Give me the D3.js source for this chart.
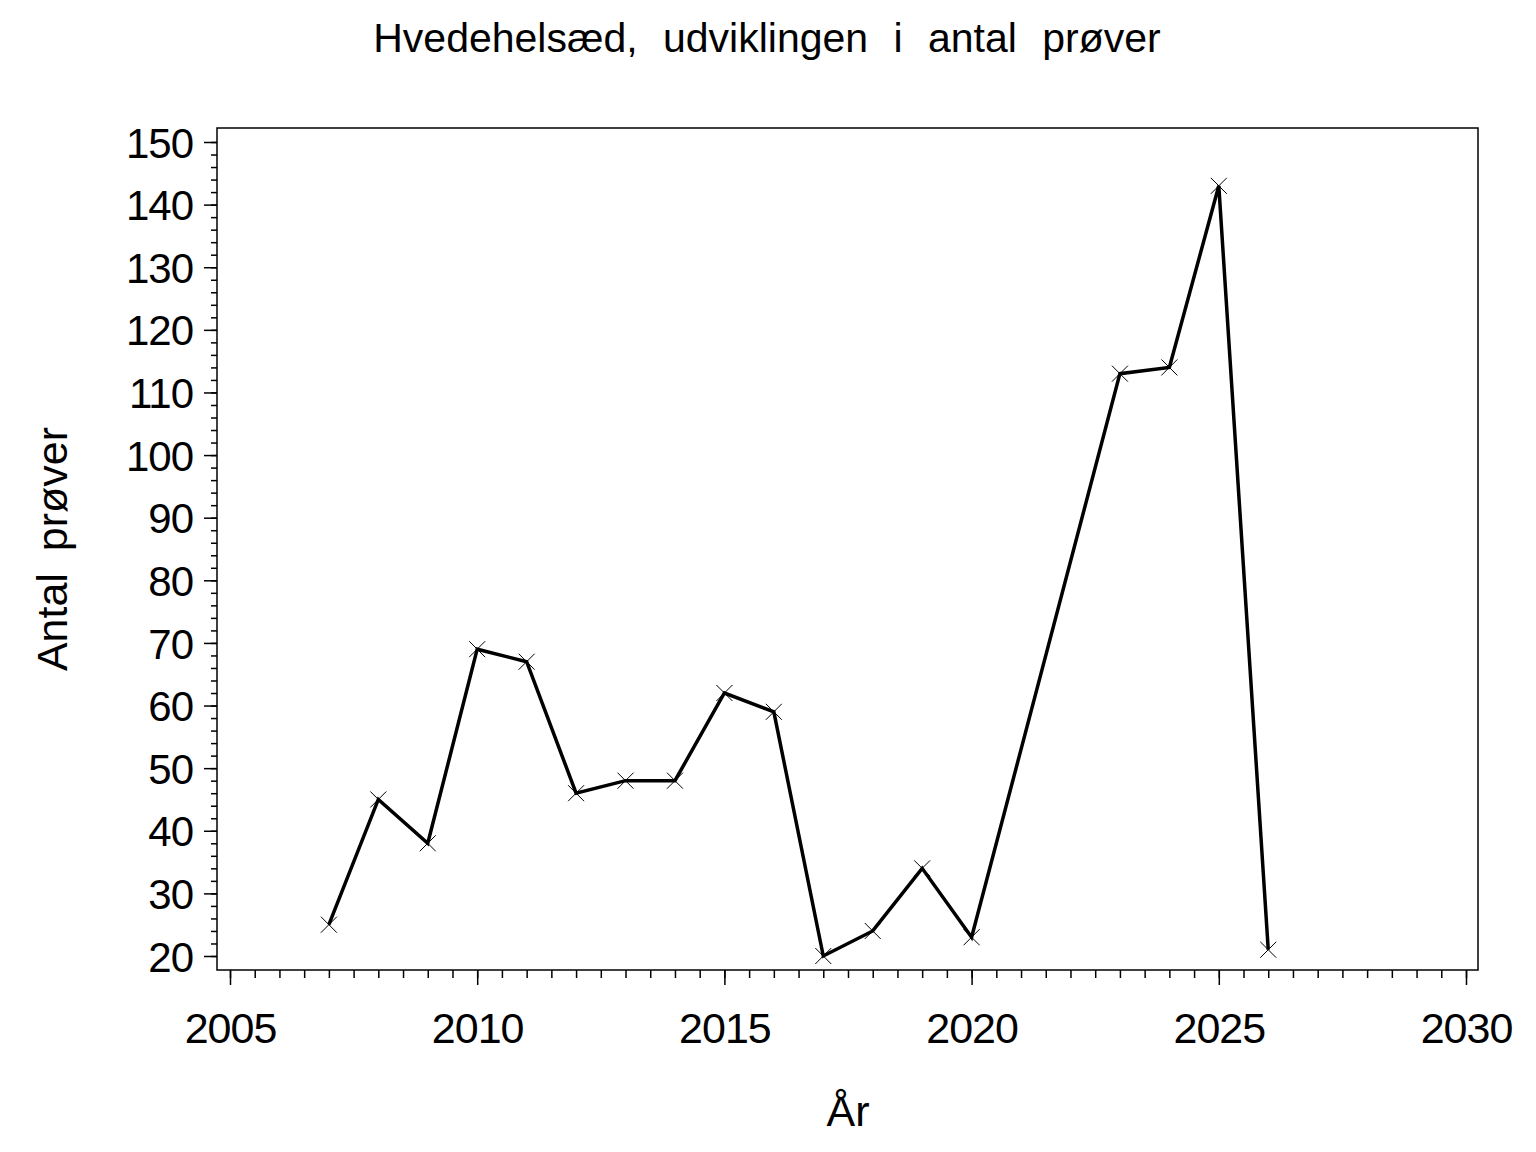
<!DOCTYPE html>
<html>
<head>
<meta charset="utf-8">
<script src="https://cdn.jsdelivr.net/npm/d3@7"></script>
<style>
  body { margin: 0; background: #fff; }
  text { font-family: "Liberation Sans", Arial, sans-serif; fill: #000; }
</style>
</head>
<body>
<svg width="1536" height="1152"></svg>
<script>
// data
const years  = [2007, 2008, 2009, 2010, 2011, 2012, 2013, 2014, 2015, 2016, 2017, 2018, 2019, 2020, 2023, 2024, 2025, 2026];
const counts = [25, 45, 38, 69, 67, 46, 48, 48, 62, 59, 20, 24, 34, 23, 113, 114, 143, 21];
const xTicks = [2005, 2010, 2015, 2020, 2025, 2030];
const yTicks = [20, 30, 40, 50, 60, 70, 80, 90, 100, 110, 120, 130, 140, 150];

const title = "Hvedehelsæd, udviklingen i antal prøver";
const xLabel = "År";
const yLabel = "Antal prøver";

const data = years.map((y, i) => ({ year: y, n: counts[i] }));

const frame = { left: 217, right: 1478, top: 128, bottom: 970 };

const svg = d3.select("svg");

const x = d3.scaleLinear().domain([2005, 2030]).range([230, 1466]);
const y = d3.scaleLinear().domain([20, 150]).range([956, 142]);

// frame
svg.append("rect")
  .attr("x", frame.left)
  .attr("y", frame.top)
  .attr("width", frame.right - frame.left)
  .attr("height", frame.bottom - frame.top)
  .attr("fill", "none")
  .attr("stroke", "#000")
  .attr("stroke-width", 1.5);

// y axis, minor then major
svg.append("g")
  .attr("transform", `translate(${frame.left},0)`)
  .call(d3.axisLeft(y).tickValues(d3.range(20, 151, 2)).tickSize(6).tickFormat(""))
  .call(g => g.select(".domain").remove())
  .selectAll("line").attr("stroke-width", 1.5);

const yAxis = svg.append("g")
  .attr("transform", `translate(${frame.left},0)`)
  .call(d3.axisLeft(y).tickValues(yTicks).tickSize(13).tickPadding(11));
yAxis.select(".domain").remove();
yAxis.selectAll("line").attr("stroke-width", 1.5);
yAxis.selectAll("text")
  .style("font-size", "42px")
  .style("font-family", "'Liberation Sans', Arial, sans-serif")
  .style("letter-spacing", "-1px")
  .attr("dy", "0.36em");

// x axis, minor then major
svg.append("g")
  .attr("transform", `translate(0,${frame.bottom})`)
  .call(d3.axisBottom(x).tickValues(d3.range(2005, 2030.01, 0.5)).tickSize(8).tickFormat(""))
  .call(g => g.select(".domain").remove())
  .selectAll("line").attr("stroke-width", 1.5);

const xAxis = svg.append("g")
  .attr("transform", `translate(0,${frame.bottom})`)
  .call(d3.axisBottom(x).tickValues(xTicks).tickSize(15).tickPadding(27).tickFormat(d3.format("d")));
xAxis.select(".domain").remove();
xAxis.selectAll("line").attr("stroke-width", 1.5);
xAxis.selectAll("text")
  .style("font-size", "43px")
  .style("font-family", "'Liberation Sans', Arial, sans-serif")
  .style("letter-spacing", "-1px");

// line
const line = d3.line().x(d => x(d.year)).y(d => y(d.n));
svg.append("path")
  .datum(data)
  .attr("d", line)
  .attr("fill", "none")
  .attr("stroke", "#000")
  .attr("stroke-width", 3.5);

// x markers
const s = 8;
svg.selectAll(".mark")
  .data(data)
  .enter()
  .append("path")
  .attr("class", "mark")
  .attr("d", d => {
    const cx = x(d.year), cy = y(d.n);
    return `M${cx - s},${cy - s}L${cx + s},${cy + s}M${cx - s},${cy + s}L${cx + s},${cy - s}`;
  })
  .attr("stroke", "#000")
  .attr("stroke-width", 1);

// title
svg.append("text")
  .attr("x", 767)
  .attr("y", 52)
  .attr("text-anchor", "middle")
  .style("font-size", "41px")
  .style("word-spacing", "14px")
  .text(title);

// axis labels
svg.append("text")
  .attr("x", 848)
  .attr("y", 1126)
  .attr("text-anchor", "middle")
  .style("font-size", "43px")
  .text(xLabel);

svg.append("text")
  .attr("transform", `translate(67,${(frame.top + frame.bottom) / 2}) rotate(-90)`)
  .attr("text-anchor", "middle")
  .style("font-size", "43px")
  .style("word-spacing", "10px")
  .text(yLabel);
</script>
</body>
</html>
